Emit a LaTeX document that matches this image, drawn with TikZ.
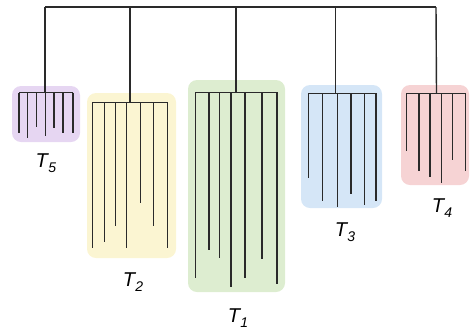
\documentclass[tikz,border=0pt]{standalone}
\usepackage{fontspec}
\setmainfont{Liberation Sans}
\definecolor{lin}{HTML}{2A2A2A}
\definecolor{cpur}{HTML}{E6D6F2}
\definecolor{cyel}{HTML}{FBF5D2}
\definecolor{cgrn}{HTML}{DDEDD0}
\definecolor{cblu}{HTML}{D5E6F7}
\definecolor{cred}{HTML}{F6D3D4}
\newcommand{\mylab}[1]{{\fontsize{20}{22}\selectfont\itshape T\kern0.5pt\raisebox{-4.5pt}{\fontsize{14}{15}\selectfont #1}}}
\begin{document}
\begin{tikzpicture}[x=1pt,y=-1pt,
  branch/.style={draw=lin,line width=1.4pt},
  treebox/.style={rounded corners=9pt,draw=none,inner sep=0pt},
  tlabel/.style={inner sep=0pt,anchor=center}]
\useasboundingbox (0,0) rectangle (470,333);
% boxes
\node[treebox,fill=cpur,minimum width=68pt,minimum height=56pt] (B5) at (46,114) {};
\node[treebox,fill=cyel,minimum width=89pt,minimum height=165pt] (B2) at (131.5,175.5) {};
\node[treebox,fill=cgrn,minimum width=97pt,minimum height=212pt] (B1) at (236.5,186) {};
\node[treebox,fill=cblu,minimum width=81pt,minimum height=123pt] (B3) at (341.5,146.5) {};
\node[treebox,fill=cred,minimum width=68pt,minimum height=100pt] (B4) at (435,135) {};
% top bar
\coordinate (top5) at (45,7);
\coordinate (top2) at (130,7);
\coordinate (top1) at (236,7);
\coordinate (top3) at (335.5,7);
\coordinate (top4) at (436,7);
\draw[branch] (top5) -- (top4);
% tree builder
\newcommand{\mytree}[4]{%
  \coordinate (#1-r) at (#2,#3);
  \draw[branch] (top#1) -- (#1-r);
  \foreach \xx/\yy [count=\i] in {#4} {
    \coordinate (#1-t\i) at (\xx,#3);
    \coordinate (#1-b\i) at (\xx,\yy);
    \draw[branch] (#1-t\i) -- (#1-b\i);
  }
}
\mytree{5}{45}{92.7}{19/133,27.7/138,36.7/127,45.7/135.7,54/128,63/133,73/133}
\draw[branch] (5-t1) -- (5-t7);
\mytree{2}{130}{102.3}{92.3/248,104.3/241.7,115.3/226,126.7/248,140.3/203,153.7/226,167.7/248}
\draw[branch] (2-t1) -- (2-t7);
\mytree{1}{236}{92.3}{195.7/278,209/250,219.3/258,231/287,245/278,262/259,277/284}
\draw[branch] (1-t1) -- (1-t7);
\mytree{3}{335.5}{93.3}{308.3/178.3,322.3/200.7,337.7/207,351/194,364.7/205,376/200.7}
\draw[branch] (3-t1) -- (3-t6);
\mytree{4}{436.5}{93.3}{406.7/150.7,419/171,430/176.7,441.7/183.3,452.7/160,465.7/171}
\draw[branch] (4-t1) -- (4-t6);
% labels
\node[tlabel] (L5) at (46,163) {\mylab{5}};
\node[tlabel] (L2) at (133,282) {\mylab{2}};
\node[tlabel] (L1) at (238,318) {\mylab{1}};
\node[tlabel] (L3) at (345,232) {\mylab{3}};
\node[tlabel] (L4) at (442,208) {\mylab{4}};
\end{tikzpicture}
\end{document}
